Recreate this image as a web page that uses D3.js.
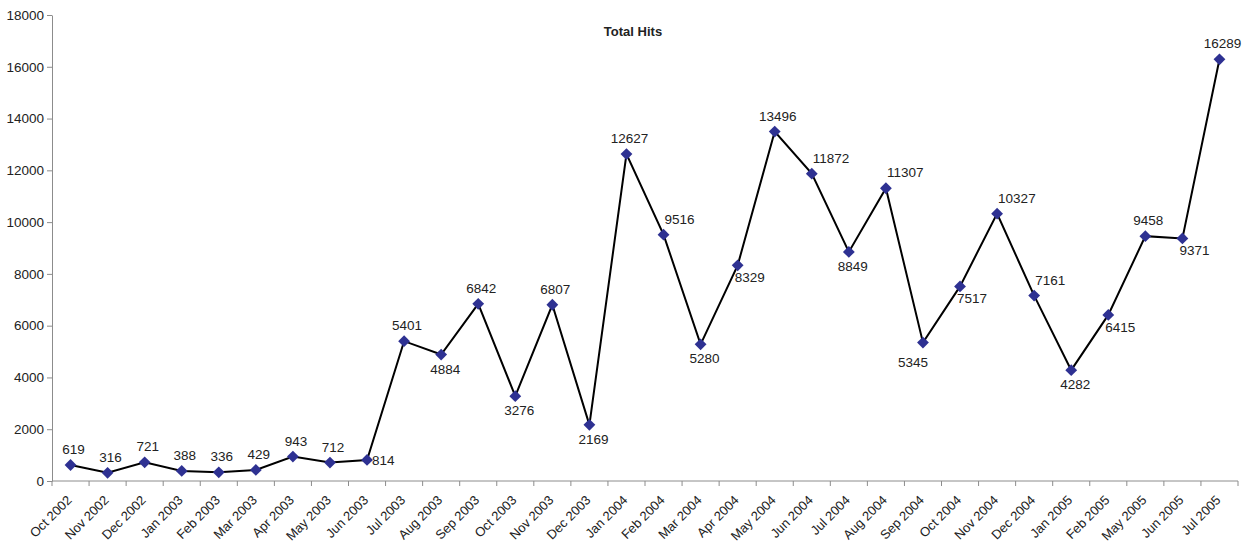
<!DOCTYPE html>
<html>
<head>
<meta charset="utf-8">
<script src="https://cdn.jsdelivr.net/npm/d3@7"></script>
<style>
  html, body { margin: 0; padding: 0; background: #fff; }
  svg { display: block; font-family: 'Liberation Sans', Arial, sans-serif; }
</style>
</head>
<body>
<svg id="chart"></svg>
<script>
// data
const months = [
  'Oct 2002', 'Nov 2002', 'Dec 2002', 'Jan 2003', 'Feb 2003', 'Mar 2003',
  'Apr 2003', 'May 2003', 'Jun 2003', 'Jul 2003', 'Aug 2003', 'Sep 2003',
  'Oct 2003', 'Nov 2003', 'Dec 2003', 'Jan 2004', 'Feb 2004', 'Mar 2004',
  'Apr 2004', 'May 2004', 'Jun 2004', 'Jul 2004', 'Aug 2004', 'Sep 2004',
  'Oct 2004', 'Nov 2004', 'Dec 2004', 'Jan 2005', 'Feb 2005', 'May 2005',
  'Jun 2005', 'Jul 2005'
];
const hits = [
  619, 316, 721, 388, 336, 429, 943, 712, 814, 5401, 4884, 6842,
  3276, 6807, 2169, 12627, 9516, 5280, 8329, 13496, 11872, 8849, 11307, 5345,
  7517, 10327, 7161, 4282, 6415, 9458, 9371, 16289
];
const yTicks = [0, 2000, 4000, 6000, 8000, 10000, 12000, 14000, 16000, 18000];
// where each data label sits relative to its marker
const labelSpots = [
  'top', 'top', 'top', 'top', 'top', 'top', 'top', 'top', 'right', 'top', 'bottom', 'top',
  'bottom', 'top', 'bottom', 'top', 'topright', 'bottom', 'bottomright', 'top', 'topright', 'bottom', 'topright', 'bottomleft',
  'bottomright', 'topright', 'topright', 'bottom', 'bottomright', 'top', 'bottomright', 'top'
];

const WIDTH = 1257;
const HEIGHT = 560;
const MARGINS = { top: 15, right: 19, bottom: 79, left: 52 };

const SPOTS = {
  top: { dx: 3, dy: -11, anchor: 'middle' },
  bottom: { dx: 4, dy: 19, anchor: 'middle' },
  right: { dx: 5, dy: 5, anchor: 'start' },
  topright: { dx: 1, dy: -11, anchor: 'start' },
  bottomright: { dx: -3, dy: 17, anchor: 'start' },
  bottomleft: { dx: -10, dy: 24, anchor: 'middle' },
};

const svg = d3.select('#chart').attr('width', WIDTH).attr('height', HEIGHT);

const x = d3
  .scaleBand()
  .domain(months)
  .range([MARGINS.left, WIDTH - MARGINS.right]);
const y = d3
  .scaleLinear()
  .domain([0, 18000])
  .range([HEIGHT - MARGINS.bottom, MARGINS.top]);

const cx = (d, i) => x(months[i]) + x.bandwidth() / 2;

// y axis
const yAxis = svg
  .append('g')
  .attr('transform', `translate(${MARGINS.left},0)`)
  .call(d3.axisLeft(y).tickValues(yTicks).tickSize(5).tickSizeOuter(0).tickFormat(d3.format('d')));
yAxis.select('.domain').attr('stroke', '#8c8c8c');
yAxis.selectAll('.tick line').attr('stroke', '#8c8c8c');
yAxis
  .selectAll('.tick text')
  .attr('fill', '#222')
  .style('font-size', '13.5px')
  .attr('x', -8);

// x axis, ticks on the band edges
const xAxisG = svg.append('g').attr('transform', `translate(0,${y(0)})`);
xAxisG
  .append('line')
  .attr('x1', MARGINS.left)
  .attr('x2', WIDTH - MARGINS.right)
  .attr('stroke', '#8c8c8c');
xAxisG
  .selectAll('.xtick')
  .data(months.concat(['end']))
  .enter()
  .append('line')
  .attr('class', 'xtick')
  .attr('x1', (d, i) => (i < months.length ? x(d) : x.range()[1]))
  .attr('x2', (d, i) => (i < months.length ? x(d) : x.range()[1]))
  .attr('y1', 0)
  .attr('y2', 5)
  .attr('stroke', '#8c8c8c');
xAxisG
  .selectAll('.xlabel')
  .data(months)
  .enter()
  .append('text')
  .attr('class', 'xlabel')
  .attr('text-anchor', 'end')
  .attr('fill', '#222')
  .style('font-size', '13px')
  .attr('transform', (d) => `translate(${x(d) + x.bandwidth() / 2 + 2},${20}) rotate(-45)`)
  .text((d) => d);

// title
svg
  .append('text')
  .attr('x', 633)
  .attr('y', 36)
  .attr('text-anchor', 'middle')
  .attr('font-weight', 'bold')
  .style('font-size', '13px')
  .attr('fill', '#222')
  .text('Total Hits');

// line
const line = d3
  .line()
  .x(cx)
  .y((d) => y(d));

svg
  .append('path')
  .datum(hits)
  .attr('fill', 'none')
  .attr('stroke', '#000')
  .attr('stroke-width', 2)
  .attr('d', line);

// diamond markers
const diamond = d3.symbol().type(d3.symbolSquare).size(70);
svg
  .selectAll('.marker')
  .data(hits)
  .enter()
  .append('path')
  .attr('class', 'marker')
  .attr('d', diamond)
  .attr('fill', '#2e3192')
  .attr('transform', (d, i) => `translate(${cx(d, i)},${y(d)}) rotate(45)`);

// value labels
svg
  .selectAll('.label')
  .data(hits)
  .enter()
  .append('text')
  .attr('class', 'label')
  .attr('fill', '#222')
  .style('font-size', '13.5px')
  .attr('text-anchor', (d, i) => SPOTS[labelSpots[i]].anchor)
  .attr('x', (d, i) => cx(d, i) + SPOTS[labelSpots[i]].dx)
  .attr('y', (d, i) => y(d) + SPOTS[labelSpots[i]].dy)
  .text((d) => d);
</script>
</body>
</html>
